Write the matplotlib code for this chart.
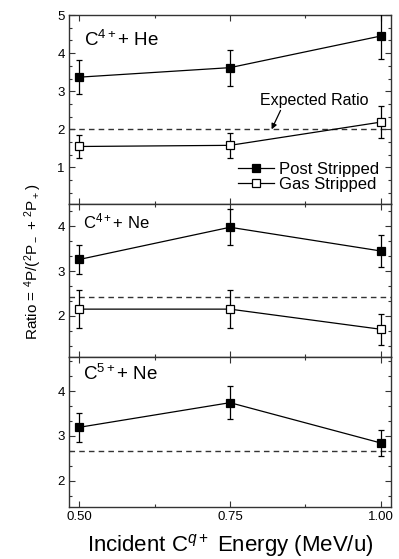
import matplotlib
matplotlib.use("Agg")
import matplotlib.pyplot as plt
from matplotlib.lines import Line2D
from matplotlib.ticker import MultipleLocator, FixedLocator

plt.rcParams['font.family'] = ['Liberation Sans', 'DejaVu Sans']
plt.rcParams['mathtext.fontset'] = 'custom'
plt.rcParams['mathtext.rm'] = 'Liberation Sans'
plt.rcParams['mathtext.it'] = 'Liberation Sans:italic'
plt.rcParams['mathtext.bf'] = 'Liberation Sans:bold'

energy = [0.50, 0.75, 1.00]
xtick_labels = ["0.50", "0.75", "1.00"]

# C4+ + He
he4_post = [3.37, 3.62, 4.45]
he4_post_err = [0.44, 0.47, 0.60]
he4_gas = [1.55, 1.58, 2.19]
he4_gas_err = [0.30, 0.32, 0.43]
he4_expected = 2.0

# C4+ + Ne
ne4_post = [3.26, 3.98, 3.45]
ne4_post_err = [0.33, 0.40, 0.35]
ne4_gas = [2.15, 2.15, 1.70]
ne4_gas_err = [0.42, 0.42, 0.35]
ne4_expected = 2.42

# C5+ + Ne
ne5_post = [3.19, 3.74, 2.84]
ne5_post_err = [0.32, 0.37, 0.28]
ne5_expected = 2.67

W, H = 399, 559
fig = plt.figure(figsize=(W / 100, H / 100), dpi=100)


def box(top, bottom, left=69, right=391):
    return [left / W, 1 - bottom / H, (right - left) / W, (bottom - top) / H]


ax1 = fig.add_axes(box(14.7, 204))
ax2 = fig.add_axes(box(204, 357))
ax3 = fig.add_axes(box(357, 507))

spine_col = '#333333'
MS = 6.0


def style(ax, ylim, yticks):
    ax.set_xlim(0.483, 1.017)
    ax.set_ylim(*ylim)
    ax.xaxis.set_major_locator(FixedLocator(energy))
    ax.xaxis.set_minor_locator(MultipleLocator(0.125))
    ax.yaxis.set_major_locator(FixedLocator(yticks))
    ax.yaxis.set_minor_locator(MultipleLocator(1 / 3))
    ax.tick_params(which='both', direction='in', top=True, right=True,
                   color=spine_col, width=0.8, labelsize=9.5, pad=3)
    ax.tick_params(which='major', length=4)
    ax.tick_params(which='minor', length=2.5)
    for s in ax.spines.values():
        s.set_color(spine_col)
        s.set_linewidth(1.0)


def series(ax, y, err, filled):
    ax.errorbar(energy, y, yerr=err, color='black', lw=0.9, elinewidth=0.9,
                capsize=2, capthick=0.9, marker='s', ms=MS,
                mfc='black' if filled else 'white', mec='black', mew=0.9,
                zorder=3)


# top panel
style(ax1, (0.04, 5.01), [1, 2, 3, 4, 5])
ax1.axhline(he4_expected, ls=(0, (4, 3)), color='#333333', lw=1.0, zorder=1)
series(ax1, he4_post, he4_post_err, True)
series(ax1, he4_gas, he4_gas_err, False)
ax1.text(0.508, 4.35, r'C$^{4+}$+ He', fontsize=13.5, ha='left', va='center')
ax1.annotate('Expected Ratio', xy=(0.819, 2.0), xytext=(0.80, 2.57),
             fontsize=11.5, ha='left', va='bottom',
             arrowprops=dict(arrowstyle='-|>', color='black', lw=0.9,
                             mutation_scale=8, shrinkA=0, shrinkB=0,
                             relpos=(0.2, 0.0)))
handles = [
    Line2D([], [], color='black', lw=0.9, marker='s', ms=MS, mfc='black',
           mec='black', mew=0.9, label='Post Stripped'),
    Line2D([], [], color='black', lw=0.9, marker='s', ms=MS, mfc='white',
           mec='black', mew=0.9, label='Gas Stripped'),
]
ax1.legend(handles=handles, loc='lower right', bbox_to_anchor=(1.0, 0.0),
           frameon=False, fontsize=12, handlelength=2.2, handletextpad=0.3,
           labelspacing=0.0, borderaxespad=0.3)
ax1.tick_params(labelbottom=False)

# middle panel
style(ax2, (1.08, 4.5), [2, 3, 4])
ax2.axhline(ne4_expected, ls=(0, (4, 3)), color='#333333', lw=1.0, zorder=1)
series(ax2, ne4_post, ne4_post_err, True)
series(ax2, ne4_gas, ne4_gas_err, False)
ax2.text(0.506, 4.1, r'C$^{4+}$+ Ne', fontsize=12, ha='left', va='center')
ax2.tick_params(labelbottom=False)

# bottom panel
style(ax3, (1.41, 4.76), [2, 3, 4])
ax3.axhline(ne5_expected, ls=(0, (4, 3)), color='#333333', lw=1.0, zorder=1)
series(ax3, ne5_post, ne5_post_err, True)
ax3.text(0.506, 4.38, r'C$^{5+}$+ Ne', fontsize=13.5, ha='left', va='center')
ax3.set_xticklabels(xtick_labels)

fig.text(230 / W, 1 - 552 / H, r'Incident C$^{q+}$ Energy (MeV/u)',
         fontsize=16, ha='center', va='baseline')
fig.text(33 / W, 1 - 262 / H, r'Ratio = $^4$P/($^2$P$_-$ + $^2$P$_+$)',
         fontsize=11, ha='center', va='center', rotation=90)

fig.savefig('out.png', dpi=100)
